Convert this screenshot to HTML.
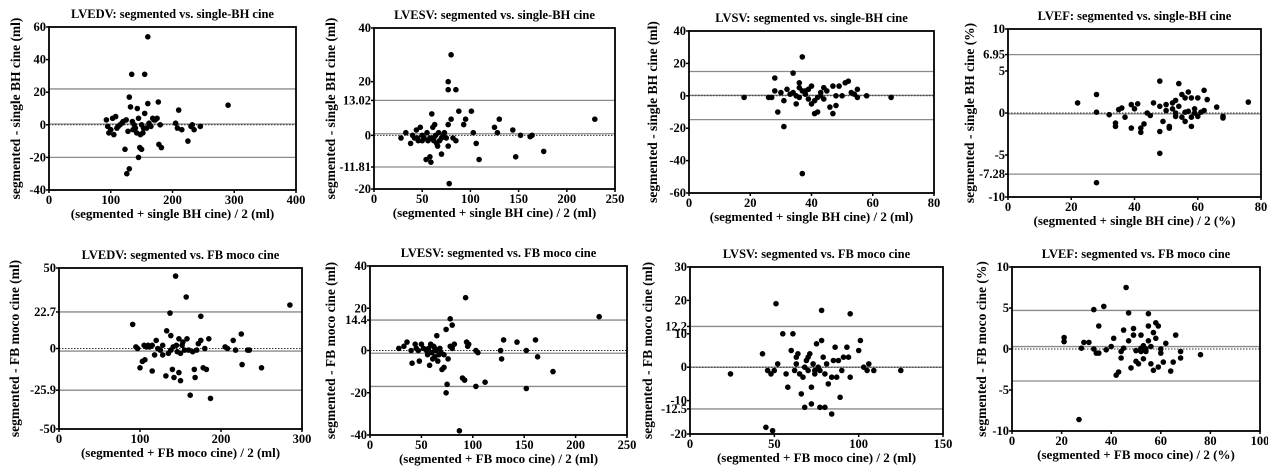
<!DOCTYPE html>
<html><head><meta charset="utf-8"><style>
html,body{margin:0;padding:0;background:#fff;}
svg{display:block;font-family:"Liberation Serif",serif;font-weight:bold;}
</style></head><body>
<svg id="s" width="1268" height="476" xmlns="http://www.w3.org/2000/svg"></svg>
<script>
const P=[
{t:"LVEDV: segmented vs. single-BH cine",xl:"(segmented + single BH cine) / 2 (ml)",yl:"segmented - single BH cine (ml)",x0:49,x1:296,y0:27,y1:190,xmin:0,xmax:400,ymin:-40,ymax:60,xt:[0,100,200,300,400],yt:[60,40,20,0,-20,-40],lines:[22,-20],mean:0.5,ylx:16,
d:[[93,3],[95,-1],[97,-5],[100,-3],[103,4],[105,-6],[108,5],[110,-2],[115,0],[120,2],[123,-15],[125,3],[126,-30],[128,-4],[130,-27],[130,17],[132,11],[134,31],[135,2],[138,0],[140,-2],[142,-5],[143,10],[145,-20],[145,4],[147,-14],[148,-6],[150,-15],[150,0],[152,-5],[155,31],[155,7],[158,-2],[160,54],[160,13],[162,1],[165,-1],[168,4],[170,3],[172,3],[175,4],[177,14],[178,-12],[180,0],[182,-14],[205,1],[208,-2],[210,9],[215,-3],[225,-10],[230,-1],[232,0],[235,-3],[245,-1],[290,12],[118,1],[112,-1],[136,-3],[153,-2]]},
{t:"LVESV: segmented vs. single-BH cine",xl:"(segmented + single BH cine) / 2 (ml)",yl:"segmented - single BH cine (ml)",x0:374,x1:615,y0:28,y1:189,xmin:0,xmax:250,ymin:-20,ymax:40,xt:[0,50,100,150,200,250],yt:[40,20,13.02,0,-11.81,-20],lines:[13.02,-11.81],mean:0.6,ylx:331,
d:[[28,-1],[33,1],[38,-3],[40,0],[42,-1],[44,2],[46,-2],[48,3],[50,0],[52,-1],[54,-9],[55,1],[56,-2],[58,-8],[59,-10],[60,-1],[60,8],[61,3],[62,-2],[63,4],[64,0],[65,-3],[66,-4],[67,1],[68,-2],[70,-7],[72,0],[75,-1],[77,4],[77,-4],[77,17],[77,20],[78,-18],[80,30],[80,6],[82,-1],[85,-2],[85,17],[88,9],[93,4],[95,6],[101,9],[103,1],[106,-3],[109,-9],[125,3],[128,1],[130,6],[144,2],[147,-8],[152,0],[162,-0.5],[164,0],[176,-6],[229,6],[45,-1],[50,-2],[58,-1],[62,-1],[70,-1],[73,1]]},
{t:"LVSV: segmented vs. single-BH cine",xl:"(segmented + single BH cine) / 2 (ml)",yl:"segmented - single BH cine (ml)",x0:689,x1:934,y0:31,y1:193,xmin:0,xmax:80,ymin:-60,ymax:40,xt:[0,20,40,60,80],yt:[40,20,0,-20,-40,-60],lines:[15,-14.7],mean:0.3,ylx:653,
d:[[18,-1],[26,-1],[27,-1],[28,11],[28,3],[29,-10],[30,2],[31,-19],[31,-3],[32,4],[33,1],[34,14],[34,2],[35,-5],[35,0],[36,5],[36,8],[37,24],[37,-48],[37,3],[38,1],[39,-2],[39,4],[40,-5],[40,6],[41,-11],[41,-3],[42,-10],[42,-1],[43,0],[44,-2],[44,5],[45,3],[46,-7],[47,-11],[47,6],[48,-6],[48,0],[49,6],[50,0],[51,8],[52,9],[53,2],[54,1],[55,4],[55,-1],[58,0],[66,-1],[36,-1],[38,3],[43,2]]},
{t:"LVEF: segmented vs. single-BH cine",xl:"(segmented + single BH cine) / 2 (%)",yl:"segmented - single BH cine (%)",x0:1008,x1:1261,y0:29,y1:197,xmin:0,xmax:80,ymin:-10,ymax:10,xt:[0,20,40,60,80],yt:[10,6.95,5,0,-5,-7.28,-10],lines:[6.95,-7.28],mean:-0.1,ylx:970,
d:[[22,1.2],[28,2.2],[28,0.1],[28,-8.3],[32,-0.2],[34,-1.2],[34,-1.6],[35,0.4],[36,0.6],[37,-0.5],[39,1],[39,-1.8],[40,0.5],[41,1.1],[42,-2.3],[42,-1.8],[43,-1.3],[44,0],[45,-0.3],[46,1.2],[48,3.8],[48,0.8],[48,-2.2],[48,-4.8],[49,-1],[50,0.3],[50,1],[51,-1.6],[51,-1.8],[52,0.5],[52,1.2],[53,0],[53,1.5],[54,3.5],[54,0.8],[55,-0.5],[55,2.2],[56,1.8],[56,-1],[57,2.5],[57,0.2],[58,-0.5],[58,1.8],[58,-1.6],[59,0],[60,1.8],[60,-0.4],[61,0.1],[62,2.7],[62,0.3],[63,1.6],[66,0.7],[68,-0.6],[68,-0.4],[76,1.3],[53,-0.4],[56,0.1],[59,0.5]]},
{t:"LVEDV: segmented vs. FB moco cine",xl:"(segmented + FB moco cine) / 2 (ml)",yl:"segmented - FB moco cine (ml)",x0:59,x1:302,y0:268,y1:429,xmin:0,xmax:300,ymin:-50,ymax:50,xt:[0,100,200,300],yt:[50,22.7,0,-25.9,-50],lines:[22.7,-25.9],mean:-1.6,ylx:15,
d:[[91,15],[95,1],[97,0],[100,-12],[103,-8],[105,2],[106,-7],[108,1],[110,2],[115,-14],[115,2],[118,-4],[120,5],[122,0],[125,-1],[128,-4],[132,-17],[133,11],[135,-3],[137,22],[138,-1],[138,8],[140,-13],[141,1],[142,-18],[144,45],[145,2],[148,6],[148,-15],[150,-20],[150,-3],[153,4],[155,-1],[157,32],[158,6],[162,-29],[165,-2],[167,-13],[168,-18],[170,-1],[172,3],[175,20],[175,5],[178,-12],[180,0],[182,-13],[185,6],[187,-31],[205,1],[208,0],[215,5],[218,-1],[225,9],[226,-10],[233,-1],[235,-1],[250,-12],[285,27],[112,1],[128,2],[146,-2],[152,2],[160,-1]]},
{t:"LVESV: segmented vs. FB moco cine",xl:"(segmented + FB moco cine) / 2 (ml)",yl:"segmented - FB moco cine (ml)",x0:370,x1:627,y0:266,y1:435,xmin:0,xmax:250,ymin:-40,ymax:40,xt:[0,50,100,150,200,250],yt:[40,20,14.4,0,-20,-40],lines:[14.4,-17],mean:-1.3,ylx:331,
d:[[28,1],[33,2],[36,4],[40,0],[41,-6],[44,3],[45,1],[47,0],[48,-5],[50,3],[52,1],[55,0],[56,-2],[58,-7],[59,3],[60,-1],[61,-4],[62,2],[63,-3],[64,0],[65,7],[66,-5],[67,-2],[68,1],[70,-9],[72,-8],[72,-2],[74,10],[74,-20],[75,-16],[76,-4],[78,15],[78,2],[80,12],[80,1],[82,3],[87,-38],[90,-13],[92,-14],[93,25],[94,4],[95,2],[96,3],[103,0],[103,-17],[105,-1],[112,-15],[127,0],[128,-4],[130,5],[143,4],[152,0],[152,-18],[161,5],[163,-3],[178,-10],[223,16],[57,1],[63,1],[69,-1]]},
{t:"LVSV: segmented vs. FB moco cine",xl:"(segmented + FB moco cine) / 2 (ml)",yl:"segmented - FB moco cine (ml)",x0:690,x1:943,y0:267,y1:434,xmin:0,xmax:150,ymin:-20,ymax:30,xt:[0,50,100,150],yt:[30,20,12.2,10,0,-10,-12.5,-20],lines:[12.2,-12.5],mean:0,ylx:648,
d:[[24,-2],[43,4],[45,-18],[46,-1],[48,-2],[49,-19],[50,-1],[51,19],[52,1],[55,10],[57,-2],[58,-6],[60,5],[61,10],[62,-1],[63,3],[63,1],[64,4],[65,-2],[66,-8],[67,-3],[68,-12],[69,2],[70,3],[70,-1],[71,4],[72,-6],[72,-11],[73,1],[74,-2],[75,7],[76,0],[77,-1],[77,-12],[78,17],[78,8],[79,3],[80,-2],[80,-12],[81,1],[82,-5],[84,-14],[84,-3],[85,2],[86,6],[87,-3],[88,2],[89,-9],[90,-1],[91,3],[93,6],[94,3],[95,-3],[95,16],[100,5],[101,8],[103,0],[105,-1],[106,1],[109,-1],[125,-1],[68,0],[74,-1]]},
{t:"LVEF: segmented vs. FB moco cine",xl:"(segmented + FB moco cine) / 2 (%)",yl:"segmented - FB moco cine (%)",x0:1012,x1:1260,y0:267,y1:431,xmin:0,xmax:100,ymin:-10,ymax:10,xt:[0,20,40,60,80,100],yt:[10,5,0,-5,-10],lines:[4.7,-3.9],mean:0.3,ylx:982,
d:[[21,0.9],[21,1.4],[27,-8.6],[28,0.1],[29,0.8],[31,0.8],[33,4.8],[33,0],[34,-0.5],[35,2.8],[35,-0.5],[37,5.2],[38,-0.1],[40,0.3],[41,1.3],[42,-3.2],[43,-2.8],[44,-1.1],[44,-0.3],[45,2.3],[45,0.1],[46,7.5],[47,4.4],[47,1],[48,-2.3],[49,2.5],[49,1.7],[50,-1.5],[50,-0.2],[51,-1.8],[52,1.7],[52,0.1],[53,-1.2],[53,0.4],[54,-0.3],[55,4.3],[55,2.8],[55,1],[56,-1.8],[56,0.3],[57,-2.6],[57,2],[58,3.2],[58,1.3],[59,-2.2],[59,2.8],[60,0],[60,-0.5],[61,-1.6],[62,0.7],[64,-2.7],[65,-1.6],[66,1.7],[68,-0.3],[68,-1.1],[76,-0.7],[54,0],[52,-0.3]]}
];
let h="";
for(const p of P){
 const X=v=>p.x0+(v-p.xmin)/(p.xmax-p.xmin)*(p.x1-p.x0);
 const Y=v=>p.y1-(v-p.ymin)/(p.ymax-p.ymin)*(p.y1-p.y0);
 const cx=(p.x0+p.x1)/2, cy=(p.y0+p.y1)/2;
 h+=`<text x="${cx}" y="${p.y0-9}" font-size="12.5" text-anchor="middle">${p.t}</text>`;
 h+=`<text x="${cx}" y="${p.y1+28}" font-size="13" text-anchor="middle">${p.xl}</text>`;
 h+=`<text transform="translate(${p.ylx+4},${cy}) rotate(-90)" font-size="13.5" text-anchor="middle">${p.yl}</text>`;
 for(const l of p.lines) h+=`<line x1="${p.x0}" x2="${p.x1}" y1="${Y(l)}" y2="${Y(l)}" stroke="#8a8a8a" stroke-width="1.3"/>`;
 h+=`<line x1="${p.x0}" x2="${p.x1}" y1="${Y(p.mean)}" y2="${Y(p.mean)}" stroke="#8a8a8a" stroke-width="1.3"/>`;
 h+=`<line x1="${p.x0}" x2="${p.x1}" y1="${Y(0)}" y2="${Y(0)}" stroke="#333" stroke-width="1" stroke-dasharray="1.5,1.5"/>`;
 for(const [a,b] of p.d) h+=`<circle cx="${X(a).toFixed(1)}" cy="${Y(b).toFixed(1)}" r="2.8" fill="#000"/>`;
 h+=`<rect x="${p.x0}" y="${p.y0}" width="${p.x1-p.x0}" height="${p.y1-p.y0}" fill="none" stroke="#000" stroke-width="1.8"/>`;
 for(const t of p.xt){h+=`<line x1="${X(t)}" x2="${X(t)}" y1="${p.y1}" y2="${p.y1+3}" stroke="#000" stroke-width="1.5"/><text x="${X(t)}" y="${p.y1+14}" font-size="12.5" text-anchor="middle">${t}</text>`;}
 for(const t of p.yt){h+=`<line x1="${p.x0-3}" x2="${p.x0}" y1="${Y(t)}" y2="${Y(t)}" stroke="#000" stroke-width="1.5"/><text x="${p.x0-3}" y="${Y(t)+4}" font-size="12.5" text-anchor="end">${t}</text>`;}
}
document.getElementById("s").innerHTML=h;
</script>
</body></html>
